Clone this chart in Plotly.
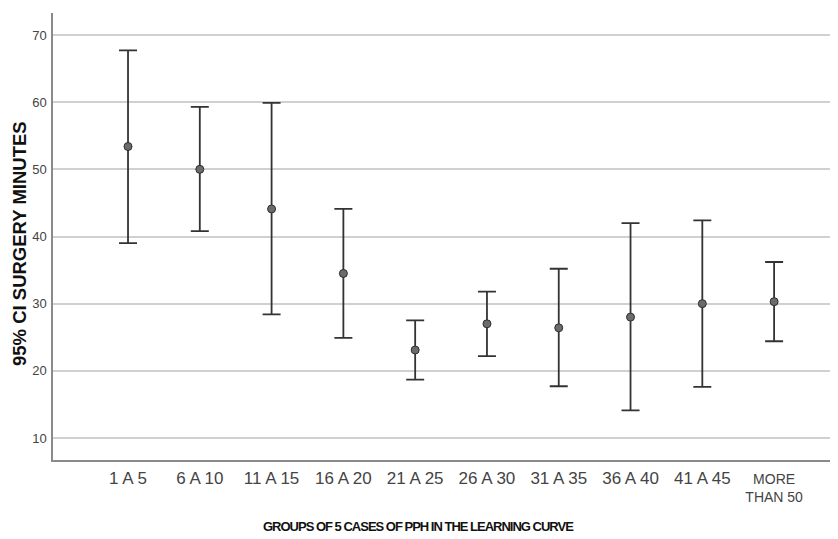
import plotly.graph_objects as go

categories = ["1 A 5", "6 A 10", "11 A 15", "16 A 20", "21 A 25", "26 A 30",
              "31 A 35", "36 A 40", "41 A 45", "MORE<br>THAN 50"]
means = [53.4, 50.0, 44.1, 34.5, 23.1, 27.0, 26.4, 28.0, 30.0, 30.3]
upper = [67.7, 59.3, 59.9, 44.1, 27.5, 31.8, 35.2, 42.0, 42.4, 36.2]
lower = [39.0, 40.8, 28.4, 24.9, 18.7, 22.2, 17.7, 14.1, 17.6, 24.4]
y_ticks = [10, 20, 30, 40, 50, 60, 70]

plus = [u - m for u, m in zip(upper, means)]
minus = [m - l for m, l in zip(means, lower)]

# larger font for single-line labels, smaller for the two-line label
tick_text = [c if "<br>" in c else f'<span style="font-size:17px">{c}</span>'
             for c in categories]

REG = "Liberation Sans, Arial, sans-serif"

# the page body adds an 8px offset; figure is sized to end at the window edge
W, H = 830, 531
L, T, B = 45, 5, 79
PW, PH = W - L, H - T - B

fig = go.Figure()
fig.add_trace(go.Scatter(
    x=list(range(len(categories))), y=means, mode="markers",
    marker=dict(size=8, color="#6b6b6b", line=dict(color="#2e2e2e", width=1)),
    error_y=dict(type="data", symmetric=False, array=plus, arrayminus=minus,
                 color="#333333", thickness=1.8, width=9),
    showlegend=False,
))

fig.update_layout(
    width=W, height=H,
    margin=dict(l=L, r=0, t=T, b=B, pad=0),
    paper_bgcolor="white", plot_bgcolor="white",
    font=dict(family=REG, color="#333333"),
    xaxis=dict(
        range=[-1.045, 9.89], automargin=False,
        tickvals=list(range(len(categories))), ticktext=tick_text,
        showgrid=False, showline=True, linecolor="#8a8a8a", linewidth=1.5,
        ticks="", ticklabelstandoff=5, zeroline=False,
        tickfont=dict(family=REG, size=14, color="#444444"),
    ),
    yaxis=dict(
        range=[6.72, 73.28], tickvals=y_ticks, automargin=False,
        showgrid=True, gridcolor="#d0d0d0", gridwidth=1.5,
        showline=True, linecolor="#8a8a8a", linewidth=1.5,
        ticks="", zeroline=False, ticklabelstandoff=2,
        tickfont=dict(family=REG, size=13, color="#444444"),
    ),
    annotations=[
        dict(text='<b><span style="letter-spacing:-1px">GROUPS OF 5 CASES OF PPH IN THE LEARNING CURVE</span></b>',
             xref="paper", yref="paper", x=(418 - 8 - L) / PW,
             y=(PH + T - (526 - 8)) / PH,
             xanchor="center", yanchor="middle", showarrow=False,
             font=dict(family=REG, size=13, color="#111111")),
        dict(text="<b>95% CI SURGERY MINUTES</b>", textangle=-90,
             xref="paper", yref="paper", x=(19 - 8 - L) / PW,
             y=(PH + T - (244 - 8)) / PH,
             xanchor="center", yanchor="middle", showarrow=False,
             font=dict(family=REG, size=18.5, color="#111111")),
    ],
)

fig.write_html("out.html")
